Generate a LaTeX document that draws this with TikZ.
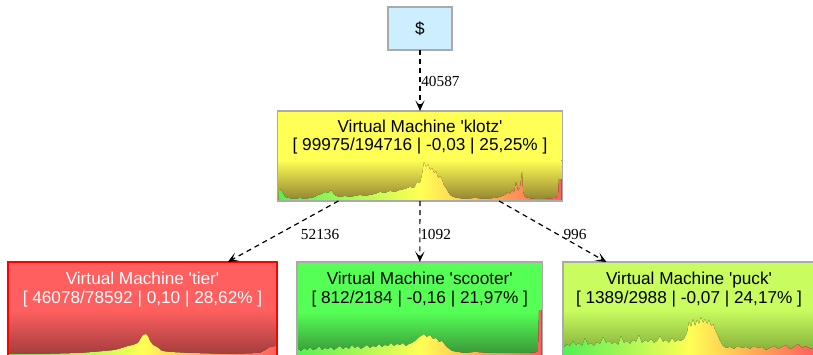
\documentclass[tikz,border=0pt]{standalone}
\usepackage{fontspec}
\setmainfont{Liberation Serif}
\newfontfamily\arialf[Ligatures=TeXOff]{Liberation Sans}
\usetikzlibrary{arrows.meta}
\definecolor{rootfill}{RGB}{204,238,255}
\definecolor{boxline}{RGB}{170,170,170}
\definecolor{kfill}{RGB}{255,255,85}
\definecolor{kdark}{RGB}{145,130,50}
\definecolor{tfill}{RGB}{255,95,95}
\definecolor{tdark}{RGB}{160,60,60}
\definecolor{sfill}{RGB}{85,255,85}
\definecolor{sdark}{RGB}{55,145,55}
\definecolor{pfill}{RGB}{200,252,95}
\definecolor{pdark}{RGB}{125,165,55}
\definecolor{hgreen}{RGB}{85,240,85}
\definecolor{hyellow}{RGB}{255,255,85}
\definecolor{horange}{RGB}{255,170,85}
\definecolor{hred}{RGB}{255,95,95}
\pgfdeclarehorizontalshading{histh}{100bp}{color(0bp)=(hgreen); color(25bp)=(hgreen); color(50bp)=(hyellow); color(63bp)=(horange); color(75bp)=(hred); color(100bp)=(hred)}
\tikzset{
  vmbox/.style={draw=boxline, line width=1.1pt, rectangle, inner sep=0pt, outer sep=0pt},
  vmtext/.style={font=\arialf\fontsize{12.9}{14}\selectfont, align=center, inner sep=0pt, anchor=base},
  elabel/.style={font=\fontsize{11.5}{12}\selectfont, inner sep=0pt, anchor=base west},
  edge/.style={dashed, dash pattern=on 3.8pt off 3pt, line width=0.9pt, -{Stealth[length=8pt,width=7pt,inset=4pt]}},
  hist/.style={shading=histh}
}
\begin{document}
\begin{tikzpicture}[x=0.75pt,y=-0.75pt]
\useasboundingbox (0,0) rectangle (813,354);
\clip (0,0) rectangle (813,354);
\fill[white] (0,0) rectangle (813,354);

% root
\node[vmbox, fill=rootfill, minimum width=48pt, minimum height=32.25pt] (root) at (420,28.5) {};
\node[font=\arialf\fontsize{12.9}{14}\selectfont, inner sep=0pt] (rootT) at (root.center) {\$};

% klotz
\node[vmbox, fill=kfill, minimum width=213.75pt, minimum height=67.5pt] (klotz) at (420,156) {};
\fill[top color=kfill, bottom color=kdark] (278.5,160) rectangle (561.5,200.3);
\fill[hist] (279,200.3) -- (279,189) -- (281,190) -- (283,193) -- (285,197) -- (288,198) -- (295,199) -- (300,198) -- (305,199) -- (310,198) -- (315,197) -- (318,195) -- (322,194) -- (325,192) -- (328,193) -- (331,190) -- (333,193) -- (336,196) -- (340,197) -- (345,196) -- (350,197) -- (355,196) -- (360,195) -- (365,196) -- (370,195) -- (375,194) -- (380,192) -- (385,193) -- (390,191) -- (395,192) -- (400,190) -- (405,189) -- (410,187) -- (414,188) -- (417,182) -- (420,183) -- (422,175) -- (424,162) -- (426,167) -- (428,164) -- (430,170) -- (432,168) -- (434,173) -- (436,171) -- (438,178) -- (440,176) -- (442,180) -- (444,186) -- (446,188) -- (448,192) -- (450,195) -- (453,197) -- (458,198) -- (465,199) -- (475,198) -- (485,199) -- (495,198) -- (500,197) -- (505,195) -- (508,192) -- (510,194) -- (512,190) -- (514,193) -- (516,182) -- (518,191) -- (520,188) -- (522,172) -- (523,192) -- (525,197) -- (528,198) -- (535,199) -- (545,199) -- (555,198) -- (558,197) -- (559,179) -- (561.5,179) -- (561.5,200.3) -- cycle;
\node[vmbox, minimum width=213.75pt, minimum height=67.5pt] (klotzB) at (420,156) {};
\node[vmtext] (klotzT) at (420,150.7) {Virtual Machine 'klotz'\\{[} 99975/194716 | -0,03 | 25,25\% ]};

% tier
\node[vmbox, draw=red, line width=1.5pt, fill=tfill, minimum width=201.75pt, minimum height=70.5pt] (tier) at (142.5,309) {};
\fill[top color=tfill, bottom color=tdark] (9,310) rectangle (276,356);
\fill[hist] (9,356) -- (9,354) -- (40,354) -- (80,353) -- (93,352) -- (105,351) -- (115,350) -- (122,348) -- (128,346) -- (133,345) -- (138,343) -- (141,338) -- (143,335) -- (146,334) -- (148,336) -- (150,341) -- (153,345) -- (157,347) -- (162,351) -- (170,352) -- (190,353) -- (230,354) -- (260,353) -- (267,349) -- (270,347) -- (276,346) -- (276,356) -- cycle;
\node[vmbox, draw=red, line width=1.5pt, minimum width=201.75pt, minimum height=70.5pt] (tierB) at (142.5,309) {};
\node[vmtext, text=white] (tierT) at (142.5,303.3) {Virtual Machine 'tier'\\{[} 46078/78592 | 0,10 | 28,62\% ]};

% scooter
\node[vmbox, fill=sfill, minimum width=184.1pt, minimum height=70.5pt] (scooter) at (419.75,309) {};
\fill[top color=sfill, bottom color=sdark] (298,312) rectangle (541.5,356);
\fill[hist] (298,356) -- (298,349) -- (301,351) -- (304,348) -- (307,350) -- (310,347) -- (313,350) -- (316,349) -- (319,346) -- (322,350) -- (325,348) -- (328,349) -- (331,347) -- (334,350) -- (337,348) -- (340,346) -- (343,349) -- (346,347) -- (349,349) -- (352,345) -- (355,348) -- (358,346) -- (361,349) -- (364,347) -- (367,345) -- (370,348) -- (373,346) -- (376,347) -- (379,344) -- (382,347) -- (385,345) -- (388,346) -- (391,343) -- (394,346) -- (397,344) -- (400,345) -- (403,343) -- (406,346) -- (409,344) -- (412,343) -- (415,341) -- (418,338) -- (421,336) -- (424,334) -- (427,337) -- (430,335) -- (433,339) -- (436,338) -- (439,342) -- (442,341) -- (445,345) -- (448,348) -- (452,351) -- (458,352) -- (465,353) -- (475,352) -- (490,353) -- (510,353) -- (530,353) -- (538,352) -- (539,310) -- (541.5,310) -- (541.5,356) -- cycle;
\node[vmbox, minimum width=184.1pt, minimum height=70.5pt] (scooterB) at (419.75,309) {};
\node[vmtext] (scooterT) at (419.75,303.3) {Virtual Machine 'scooter'\\{[} 812/2184 | -0,16 | 21,97\% ]};

% puck
\node[vmbox, fill=pfill, minimum width=189pt, minimum height=70.5pt] (puck) at (689,309) {};
\fill[top color=pfill, bottom color=pdark] (564,310) rectangle (815,356);
\fill[hist] (564,356) -- (564,347) -- (567,344) -- (570,346) -- (573,341) -- (576,345) -- (579,343) -- (582,346) -- (585,338) -- (588,345) -- (591,343) -- (594,346) -- (597,342) -- (600,344) -- (603,337) -- (606,343) -- (609,341) -- (612,344) -- (615,342) -- (618,345) -- (621,336) -- (624,343) -- (627,341) -- (630,344) -- (633,340) -- (636,342) -- (639,335) -- (642,343) -- (645,340) -- (648,342) -- (651,339) -- (654,343) -- (657,341) -- (660,336) -- (663,342) -- (666,340) -- (669,343) -- (672,338) -- (675,342) -- (678,340) -- (681,341) -- (684,339) -- (687,333) -- (689,322) -- (691,327) -- (693,319) -- (695,326) -- (697,320) -- (699,324) -- (701,317) -- (703,323) -- (705,319) -- (707,324) -- (709,320) -- (711,326) -- (713,324) -- (715,330) -- (717,334) -- (720,341) -- (723,346) -- (726,348) -- (730,347) -- (734,349) -- (738,346) -- (742,348) -- (746,347) -- (750,349) -- (754,346) -- (758,348) -- (762,347) -- (766,350) -- (770,348) -- (774,346) -- (778,349) -- (782,347) -- (786,345) -- (790,349) -- (794,347) -- (798,344) -- (802,348) -- (806,346) -- (810,349) -- (815,347) -- (815,356) -- cycle;
\node[vmbox, minimum width=189pt, minimum height=70.5pt] (puckB) at (689,309) {};
\node[vmtext] (puckT) at (689,303.3) {Virtual Machine 'puck'\\{[} 1389/2988 | -0,07 | 24,17\% ]};

% edges
\draw[edge] (root) -- (klotz);
\draw[edge] (klotz) -- (tier);
\draw[edge] (klotz) -- (scooter);
\draw[edge] (klotz) -- (puck);

% edge labels
\node[elabel] (l0) at (421,86) {40587};
\node[elabel] (l1) at (300.7,239) {52136};
\node[elabel] (l2) at (420,239) {1092};
\node[elabel] (l3) at (563.3,239) {996};
\end{tikzpicture}
\end{document}
